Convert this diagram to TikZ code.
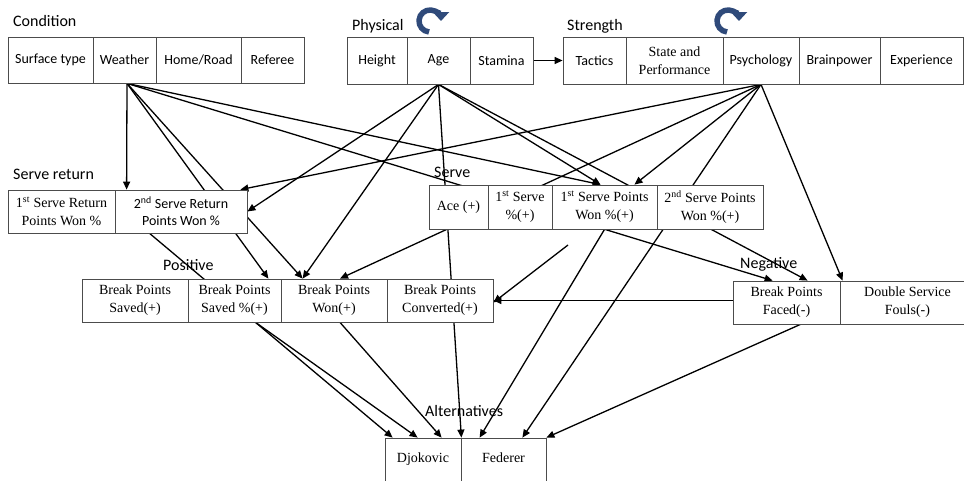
\documentclass[tikz,border=0pt]{standalone}
\usepackage{fontspec}
\setmainfont{Liberation Serif}
\newfontfamily\carl{Carlito}
\usetikzlibrary{arrows.meta}
\pgfdeclarelayer{bg}
\pgfsetlayers{bg,main}
\definecolor{cycblue}{HTML}{2F4A7A}
\tikzset{
 cellbase/.style={draw=black!70, line width=0.8pt, fill=white, inner sep=0pt, align=center},
 sanscell/.style={cellbase, font=\carl\fontsize{14}{17}\selectfont},
 serifcell/.style={cellbase, font=\fontsize{14}{18}\selectfont},
 grp/.style={font=\carl\fontsize{16}{19}\selectfont, anchor=west, inner sep=0pt},
 conn/.style={line width=1.3pt, -{Triangle[length=8pt,width=7pt]}},
 cyc/.style={line width=5.5pt, draw=cycblue, -{Triangle[length=9pt,width=16pt]}}
}
\newcommand{\cellat}[7]{%
  \node[#1, minimum width={#4-#3}, minimum height={#6-#5}] (#2) at ({(#3+#4)/2},{(#5+#6)/2}) {#7};}
\begin{document}
\begin{tikzpicture}[x=1pt,y=-1pt]
\useasboundingbox (0,0) rectangle (964,480);
% group labels
\node[grp] (lcond) at (13,21) {Condition};
\node[grp] (lphys) at (352,26) {Physical};
\node[grp] (lstr) at (567,26) {Strength};
\node[grp] (lsr) at (13,174) {Serve return};
\node[grp] (lserve) at (434,172) {Serve};
\node[grp] (lpos) at (163,265) {Positive};
\node[grp] (lneg) at (740,264) {Negative};
\node[grp] (lalt) at (425,411) {Alternatives};
% Condition
\cellat{sanscell}{st}{8}{93}{37}{83}{Surface type}
\cellat{sanscell}{wea}{93}{156}{37}{83}{Weather}
\cellat{sanscell}{hr}{156}{241}{37}{83}{Home/Road}
\cellat{sanscell}{ref}{241}{304}{37}{83}{Referee}
% Physical
\cellat{sanscell}{hei}{347}{407}{37}{84}{Height}
\cellat{sanscell}{age}{407}{470}{37}{84}{Age}
\cellat{sanscell}{sta}{470}{533}{37}{84}{Stamina}
% Strength
\cellat{sanscell}{tac}{563}{626}{37}{84}{Tactics}
\cellat{serifcell}{sp}{626}{723}{37}{84}{State and\\Performance}
\cellat{sanscell}{psy}{723}{799}{37}{84}{Psychology}
\cellat{sanscell}{bra}{799}{880}{37}{84}{Brainpower}
\cellat{sanscell}{exp}{880}{963}{37}{84}{Experience}
% Serve return
\cellat{serifcell}{sr1}{8}{115}{190}{233}{1\textsuperscript{st} Serve Return\\Points Won \%}
\cellat{sanscell}{sr2}{115}{247}{190}{233}{2\textsuperscript{nd} Serve Return\\Points Won \%}
% Serve
\cellat{serifcell}{ace}{429}{488}{185}{229}{Ace (+)}
\cellat{serifcell}{s1}{488}{552}{185}{229}{1\textsuperscript{st} Serve\\\%(+)}
\cellat{serifcell}{spw1}{552}{657}{185}{229}{1\textsuperscript{st} Serve Points\\Won \%(+)}
\cellat{serifcell}{spw2}{657}{763}{185}{229}{2\textsuperscript{nd} Serve Points\\Won \%(+)}
% Positive
\cellat{serifcell}{bps}{82}{188}{279}{322}{Break Points\\Saved(+)}
\cellat{serifcell}{bpsp}{188}{281}{279}{322}{Break Points\\Saved \%(+)}
\cellat{serifcell}{bpw}{281}{387}{279}{322}{Break Points\\Won(+)}
\cellat{serifcell}{bpc}{387}{493}{279}{322}{Break Points\\Converted(+)}
% Negative
\cellat{serifcell}{bpf}{733}{840}{281}{324}{Break Points\\Faced(-)}
\cellat{serifcell}{dsf}{840}{975}{281}{324}{Double Service\\Fouls(-)}
% Alternatives
\cellat{serifcell,text height=10pt,text depth=14pt}{djo}{385}{461}{438}{490}{Djokovic}
\cellat{serifcell,text height=10pt,text depth=14pt}{fed}{461}{546}{438}{490}{Federer}
% cycle arrows (local y axis pointing up)
\begin{scope}[shift={(430,21)}, x=1pt, y=1pt]
  \draw[cyc] (265:11) arc[start angle=265, end angle=0, radius=11];
\end{scope}
\begin{scope}[shift={(728,21)}, x=1pt, y=1pt]
  \draw[cyc] (265:11) arc[start angle=265, end angle=0, radius=11];
\end{scope}
% fan points
\coordinate (W) at ([xshift=2.5pt]wea.south);
\coordinate (A) at (age.south);
\coordinate (P) at (psy.south);
\coordinate (free) at (568,245);
\begin{pgfonlayer}{bg}
\draw[conn] (W) -- ([xshift=12pt]sr2.north west);
\draw[conn] (W) -- ([xshift=-13pt]bpsp.north east);
\draw[conn] (W) -- ([xshift=22pt]bpw.north west);
\draw[conn] (W) -- ([xshift=-4pt]spw1.north);
\draw[conn] (W) -- ([xshift=40pt]bpf.north west);
\draw[conn] (A) -- (sr2.east);
\draw[conn] (A) -- ([xshift=22pt]bpw.north west);
\draw[conn] (A) -- (djo.north east);
\draw[conn] (A) -- ([xshift=-4pt]spw1.north);
\draw[conn] (A) -- ([xshift=75pt]bpf.north west);
\draw[conn] (P) -- ([xshift=-7pt]sr2.north east);
\draw[conn] (P) -- ([xshift=6pt]bpw.north);
\draw[conn] (P) -- ([xshift=30pt]spw1.north);
\draw[conn] (P) -- ([xshift=-24pt]fed.north east);
\draw[conn] (P) -- ([xshift=3pt]dsf.north west);
\draw[conn] (sta.east) -- (tac.west);
\draw[conn] ([xshift=35pt]sr2.south west) -- ([xshift=8pt]djo.north west);
\draw[conn] ([xshift=68pt]bpsp.south west) -- ([xshift=33pt]djo.north west);
\draw[conn] ([xshift=6pt]bpw.south) -- ([xshift=57pt]djo.north west);
\draw[conn] (spw1.south) -- ([xshift=19pt]fed.north west);
\draw[conn] ([xshift=-40pt]bpf.south east) -- (fed.north east);
\draw[conn] (bpf.west |- bpc.east) -- (bpc.east);
\draw[conn] (free) -- ([yshift=-2pt]bpc.east);
\end{pgfonlayer}
\end{tikzpicture}
\end{document}
